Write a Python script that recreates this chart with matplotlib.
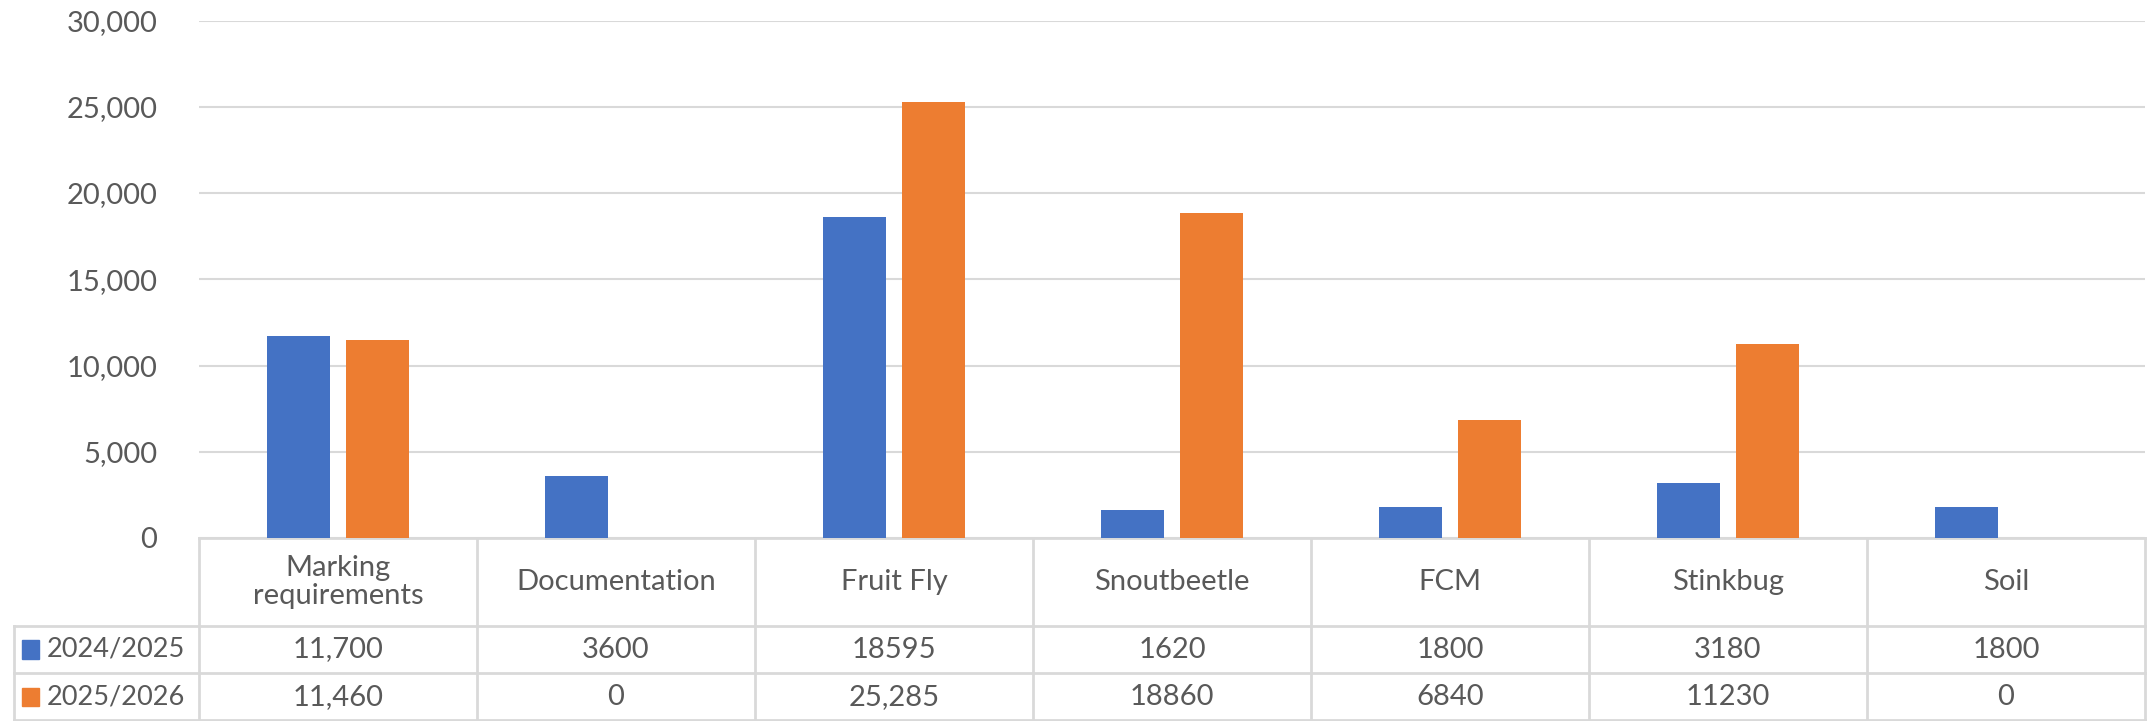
import matplotlib.pyplot as plt
import numpy as np
from matplotlib.patches import Rectangle
from matplotlib.ticker import FuncFormatter

categories = ['Marking\nrequirements', 'Documentation', 'Fruit Fly', 'Snoutbeetle', 'FCM', 'Stinkbug', 'Soil']
series_names = ['2024/2025', '2025/2026']
values_2024 = [11700, 3600, 18595, 1620, 1800, 3180, 1800]
values_2025 = [11460, 0, 25285, 18860, 6840, 11230, 0]
# table text as shown in the source (mixed formatting)
labels_2024 = ['11,700', '3600', '18595', '1620', '1800', '3180', '1800']
labels_2025 = ['11,460', '0', '25,285', '18860', '6840', '11230', '0']

colors = ['#4472c4', '#ed7d31']
text_color = '#595959'
line_color = '#d9d9d9'

plt.rcParams['font.family'] = ['Lato', 'DejaVu Sans']

W, H = 2148, 721
fig = plt.figure(figsize=(W / 100, H / 100), dpi=100)
left, right, top, bottom = 199, 2145, 20.5, 538
ax = fig.add_axes([left / W, (H - bottom) / H, (right - left) / W, (bottom - top) / H])

x = np.arange(len(categories)) + 0.5
width = 0.227
ax.bar(x - 0.143, values_2024, width, color=colors[0], zorder=3)
ax.bar(x + 0.143, values_2025, width, color=colors[1], zorder=3)

ax.set_xlim(0, len(categories))
ax.set_ylim(0, 30000)
ax.set_yticks(range(0, 30001, 5000))
ax.yaxis.set_major_formatter(FuncFormatter(lambda v, p: f'{int(v):,}'))
ax.tick_params(axis='y', length=0, pad=30, labelsize=21, labelcolor=text_color)
ax.set_xticks([])
ax.grid(axis='y', color=line_color, linewidth=1.5, zorder=0)
for s in ['top', 'right', 'left']:
    ax.spines[s].set_visible(False)
ax.spines['bottom'].set_color(line_color)
ax.spines['bottom'].set_linewidth(2)

# data table below the plot
tr = ax.get_xaxis_transform()
px = bottom - top
y_head = -(626 - bottom) / px
y_row1 = -(673 - bottom) / px
y_row2 = -(H - bottom) / px
x_left = (14 - left) / ((right - left) / len(categories))
n = len(categories)

def hline(y, x0, x1):
    ax.plot([x0, x1], [y, y], transform=tr, color=line_color, lw=2, clip_on=False)

def vline(xv, y0, y1):
    ax.plot([xv, xv], [y0, y1], transform=tr, color=line_color, lw=2, clip_on=False)

hline(y_head, x_left, n)
hline(y_row1, x_left, n)
hline(y_row2 + 0.002, x_left, n)
for i in range(n + 1):
    vline(i, 0, y_row2)
vline(x_left, y_head, y_row2)

fs = 21
for i, c in enumerate(categories):
    ax.text(i + 0.5, (0 + y_head) / 2, c, transform=tr, ha='center', va='center',
            fontsize=fs, color=text_color, linespacing=1.1)
    ax.text(i + 0.5, (y_head + y_row1) / 2, labels_2024[i], transform=tr, ha='center',
            va='center', fontsize=fs, color=text_color)
    ax.text(i + 0.5, (y_row1 + y_row2) / 2, labels_2025[i], transform=tr, ha='center',
            va='center', fontsize=fs, color=text_color)

key = 17 / ((right - left) / n)
for j, (name, yy) in enumerate(zip(series_names, [(y_head + y_row1) / 2, (y_row1 + y_row2) / 2])):
    ax.add_patch(Rectangle((x_left + 0.03, yy - 0.018), key, 0.036, transform=tr,
                           color=colors[j], clip_on=False))
    ax.text(x_left + 0.03 + key + 0.025, yy, name, transform=tr, ha='left', va='center',
            fontsize=19.5, color=text_color)

fig.savefig('out.png', dpi=100)
